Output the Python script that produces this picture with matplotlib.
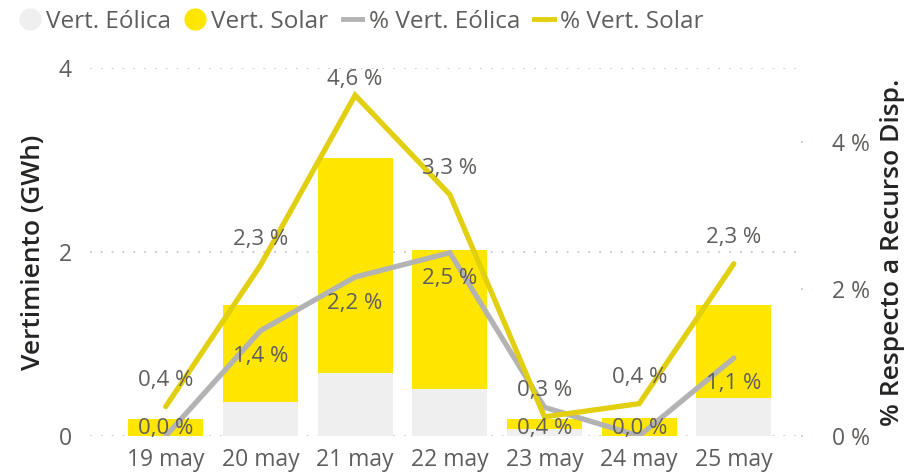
import matplotlib.pyplot as plt
from matplotlib.lines import Line2D

DAYS = ["19 may", "20 may", "21 may", "22 may", "23 may", "24 may", "25 may"]
VERT_EOLICA = [0.0, 0.37, 0.69, 0.51, 0.08, 0.0, 0.41]   # GWh
VERT_SOLAR = [0.18, 1.05, 2.33, 1.51, 0.11, 0.20, 1.01]  # GWh
PCT_EOLICA = [0.0, 1.43, 2.16, 2.49, 0.39, 0.0, 1.06]    # %
PCT_SOLAR = [0.40, 2.32, 4.63, 3.28, 0.26, 0.44, 2.34]   # %

LEFT_TICKS = [0, 2, 4]
RIGHT_TICKS = [0, 2, 4]

C_EOL_BAR = "#EFEFEF"
C_SOL_BAR = "#FFE600"
C_EOL_LINE = "#B3B3B3"
C_SOL_LINE = "#E1CF10"
C_TEXT = "#605E5C"
C_TITLE = "#252423"
C_GRID = "#C8C8C8"

plt.rcParams["font.family"] = ["Open Sans", "DejaVu Sans"]

fig = plt.figure(figsize=(9.12, 4.74), dpi=100)
ax = fig.add_axes([90 / 912, 38 / 474, 713 / 912, 368 / 474])
ax2 = ax.twinx()

x = list(range(len(DAYS)))
ax.bar(x, VERT_EOLICA, width=0.79, color=C_EOL_BAR, zorder=2)
ax.bar(x, VERT_SOLAR, width=0.79, bottom=VERT_EOLICA, color=C_SOL_BAR, zorder=2)

ax.set_xlim(-0.8, 6.73)
ax.set_ylim(0, 4)
ax.set_yticks(LEFT_TICKS)
ax.set_yticklabels([str(t) for t in LEFT_TICKS])
ax.set_xticks(x)
ax.set_xticklabels(DAYS)
ax.grid(axis="y", color=C_GRID, linestyle=(0, (1, 5)), linewidth=1.3, zorder=0)
ax.set_axisbelow(True)
ax.tick_params(axis="y", length=0, pad=13, labelsize=16.5, labelcolor=C_TEXT)
ax.tick_params(axis="x", length=0, pad=9, labelsize=16.5, labelcolor=C_TEXT)
ax.set_ylabel("Vertimiento (GWh)", fontsize=19, color=C_TITLE,
               fontweight="semibold", labelpad=9)

ax2.plot(x, PCT_EOLICA, color=C_EOL_LINE, linewidth=3.8, solid_capstyle="round",
         solid_joinstyle="miter", zorder=3)
ax2.plot(x, PCT_SOLAR, color=C_SOL_LINE, linewidth=3.8, solid_capstyle="round",
         solid_joinstyle="miter", zorder=4)
ax2.set_ylim(0, 5)
ax2.set_yticks(RIGHT_TICKS)
ax2.set_yticklabels([f"{t} %" for t in RIGHT_TICKS])
ax2.tick_params(axis="y", length=0, pad=21, labelsize=16.5, labelcolor=C_TEXT)
ax2.set_ylabel("% Respecto a Recurso Disp.", fontsize=19, color=C_TITLE,
               fontweight="semibold", labelpad=7)
for t in RIGHT_TICKS:
    ax2.axhline(t, xmin=0.997, xmax=1.013, color=C_GRID, linestyle=(0, (1, 5)),
                linewidth=1.3, clip_on=False)

for a in (ax, ax2):
    for s in a.spines.values():
        s.set_visible(False)

# data labels: solar above the point, eolica below (kept inside the plot)
off = 0.353
for i, v in enumerate(PCT_SOLAR):
    ax2.text(i, min(v + off, 4.85), f"{v:.1f} %".replace(".", ","), ha="center",
             va="center", fontsize=16, color=C_TEXT, zorder=6)
for i, v in enumerate(PCT_EOLICA):
    ax2.text(i, max(v - off, 0.1), f"{v:.1f} %".replace(".", ","), ha="center",
             va="center", fontsize=16, color=C_TEXT, zorder=6)

handles = [
    Line2D([], [], marker="o", linestyle="none", markersize=15, color=C_EOL_BAR),
    Line2D([], [], marker="o", linestyle="none", markersize=15, color=C_SOL_BAR),
    Line2D([], [], color=C_EOL_LINE, linewidth=3.5),
    Line2D([], [], color=C_SOL_LINE, linewidth=3.5),
]
labels = ["Vert. Eólica", "Vert. Solar", "% Vert. Eólica", "% Vert. Solar"]
fig.legend(handles, labels, loc="upper left", bbox_to_anchor=(0.012, 1.0), ncol=4,
           frameon=False, fontsize=17.5, labelcolor=C_TEXT, handlelength=0.8,
           handletextpad=0.25, columnspacing=0.6, borderaxespad=0)

fig.savefig("out.png", dpi=100)
